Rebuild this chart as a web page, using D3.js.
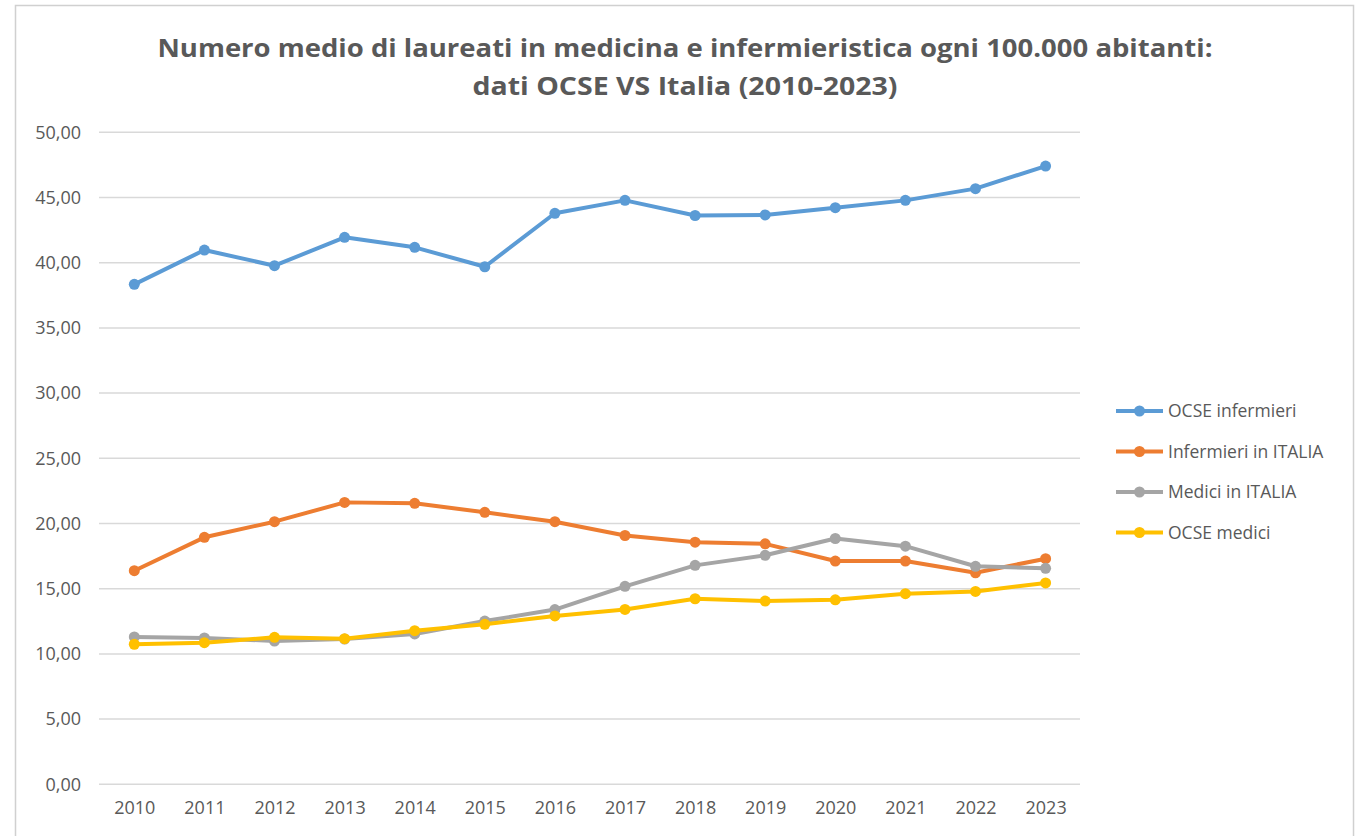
<!DOCTYPE html>
<html>
<head>
<meta charset="utf-8">
<script src="https://cdn.jsdelivr.net/npm/d3@7"></script>
<style>
  html, body { margin: 0; padding: 0; background: #fff; }
  svg { display: block; }
</style>
</head>
<body>
<div id="chart"></div>
<script>
var years = ["2010","2011","2012","2013","2014","2015","2016","2017","2018","2019","2020","2021","2022","2023"];
var ocseInfermieri = [38.34, 40.97, 39.77, 41.95, 41.18, 39.69, 43.79, 44.78, 43.62, 43.66, 44.22, 44.78, 45.68, 47.41];
var infermieriItalia = [16.38, 18.94, 20.14, 21.62, 21.55, 20.86, 20.14, 19.08, 18.57, 18.44, 17.12, 17.12, 16.22, 17.30];
var mediciItalia = [11.30, 11.22, 10.99, 11.14, 11.53, 12.52, 13.40, 15.18, 16.79, 17.56, 18.85, 18.26, 16.72, 16.56];
var ocseMedici = [10.74, 10.86, 11.27, 11.17, 11.78, 12.27, 12.91, 13.41, 14.23, 14.05, 14.15, 14.62, 14.79, 15.44];
var seriesNames = ["OCSE infermieri", "Infermieri in ITALIA", "Medici in ITALIA", "OCSE medici"];
var seriesColors = ["#5b9bd5", "#ed7d31", "#a5a5a5", "#ffc000"];
var yTicks = [0, 5, 10, 15, 20, 25, 30, 35, 40, 45, 50];
var titleLines = ["Numero medio di laureati in medicina e infermieristica ogni 100.000 abitanti:",
                  "dati OCSE VS Italia (2010-2023)"];

function init() {
  var width = 1356, height = 836;
  var allSeries = [ocseInfermieri, infermieriItalia, mediciItalia, ocseMedici];

  var svg = d3.select("#chart").append("svg")
    .attr("width", width)
    .attr("height", height);

  // chart frame
  svg.append("rect")
    .attr("x", 15.5).attr("y", 5.5)
    .attr("width", 1338).attr("height", 840)
    .attr("fill", "#fff")
    .attr("stroke", "#d0d0d0")
    .attr("stroke-width", 1.5);

  var x = d3.scalePoint()
    .domain(years)
    .range([134.3, 1045.6]);

  var y = d3.scaleLinear()
    .domain([0, 50])
    .range([784.3, 132.3]);

  // gridlines
  svg.append("g").selectAll("line")
    .data(yTicks)
    .enter().append("line")
    .attr("x1", 99).attr("x2", 1080)
    .attr("y1", function(d) { return y(d); })
    .attr("y2", function(d) { return y(d); })
    .attr("stroke", "#d9d9d9")
    .attr("stroke-width", 1.5);

  var fmt = function(d) { return d3.format(".2f")(d).replace(".", ","); };

  var yAxis = svg.append("g")
    .attr("transform", "translate(81,0)")
    .call(d3.axisLeft(y).tickValues(yTicks).tickFormat(fmt).tickSize(0).tickPadding(0));
  yAxis.select(".domain").remove();
  yAxis.selectAll("text")
    .attr("fill", "#595959")
    .style("font-family", "'Open Sans', sans-serif")
    .style("font-size", "18px");

  var xAxis = svg.append("g")
    .attr("transform", "translate(0,801)")
    .call(d3.axisBottom(x).tickSize(0).tickPadding(0));
  xAxis.select(".domain").remove();
  xAxis.selectAll("text")
    .attr("fill", "#595959")
    .style("font-family", "'Open Sans', sans-serif")
    .style("font-size", "18px");

  var line = d3.line()
    .x(function(d, i) { return x(years[i]); })
    .y(function(d) { return y(d); });

  allSeries.forEach(function(s, k) {
    var g = svg.append("g");
    g.append("path")
      .datum(s)
      .attr("d", line)
      .attr("fill", "none")
      .attr("stroke", seriesColors[k])
      .attr("stroke-width", 4)
      .attr("stroke-linejoin", "round");
    g.selectAll("circle")
      .data(s)
      .enter().append("circle")
      .attr("cx", function(d, i) { return x(years[i]); })
      .attr("cy", function(d) { return y(d); })
      .attr("r", 5.5)
      .attr("fill", seriesColors[k]);
  });

  // title
  svg.selectAll(".title")
    .data(titleLines)
    .enter().append("text")
    .attr("class", "title")
    .attr("x", 685)
    .attr("y", function(d, i) { return 57 + i * 38; })
    .attr("text-anchor", "middle")
    .attr("fill", "#595959")
    .style("font-family", "'Open Sans', sans-serif")
    .style("font-weight", "bold")
    .style("font-size", "25px")
    .attr("textLength", function(d, i) { return i === 0 ? 1055 : 425; })
    .attr("lengthAdjust", "spacingAndGlyphs")
    .text(function(d) { return d; });

  // legend
  var legend = svg.append("g").selectAll("g")
    .data(seriesNames)
    .enter().append("g")
    .attr("transform", function(d, i) { return "translate(1116," + (411 + i * 40.5) + ")"; });
  legend.append("line")
    .attr("x1", 0).attr("x2", 47)
    .attr("stroke", function(d, i) { return seriesColors[i]; })
    .attr("stroke-width", 4);
  legend.append("circle")
    .attr("cx", 23.5).attr("r", 5.5)
    .attr("fill", function(d, i) { return seriesColors[i]; });
  legend.append("text")
    .attr("x", 52).attr("dy", "0.35em")
    .attr("fill", "#595959")
    .style("font-family", "'Open Sans', sans-serif")
    .style("font-size", "17.5px")
    .text(function(d) { return d; });
}

window.onload = init;
</script>
</body>
</html>
